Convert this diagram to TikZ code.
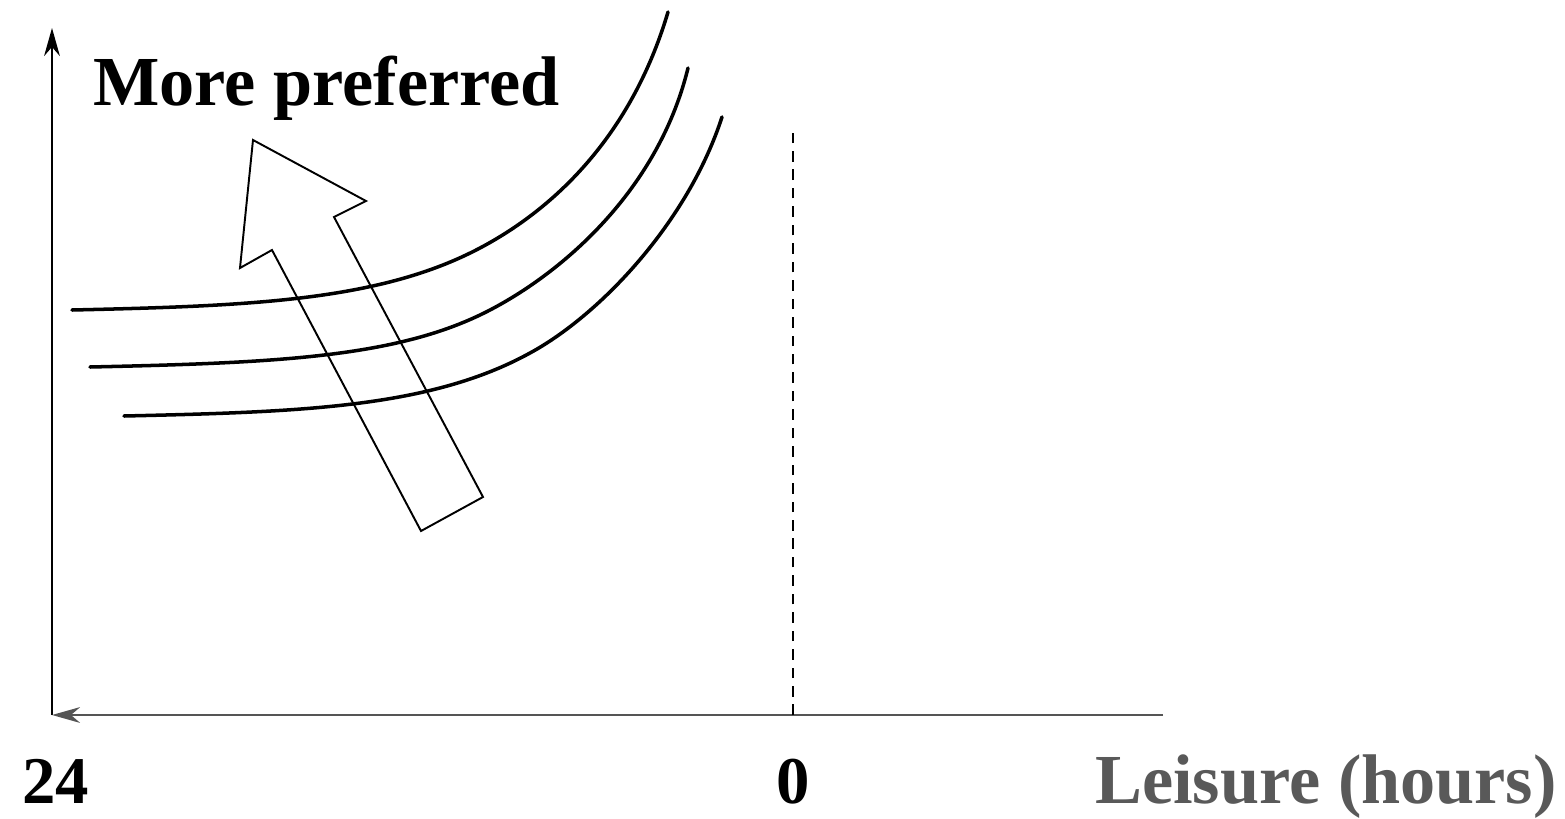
\documentclass[tikz,border=0pt]{standalone}
\usepackage{fontspec}
\setmainfont{Liberation Serif}
\usetikzlibrary{arrows.meta}
\definecolor{axisgray}{HTML}{555555}
\definecolor{labelgray}{HTML}{595959}
\tikzset{
  lbl/.style={font=\fontsize{40}{42}\selectfont\bfseries, inner sep=0pt, anchor=base west},
  numlbl/.style={font=\fontsize{38}{40}\selectfont\bfseries, inner sep=0pt, anchor=base west},
  icurve/.style={line width=2pt, line cap=round},
  bigarrow/.style={line width=1.1pt, line join=miter},
}
\begin{document}
\begin{tikzpicture}[x=0.02cm,y=-0.02cm]
\useasboundingbox (0,0) rectangle (1565,818);
% axes
\coordinate (O) at (52,715);
\coordinate (ytop) at (52,28);
\coordinate (xend) at (1163,715);
\coordinate (z0) at (793,715);
\coordinate (dtop) at (793,132);
\draw[line width=1.1pt, -{Stealth[length=16pt,width=9pt]}] (O) -- (ytop);
\draw[axisgray, line width=1.1pt, -{Stealth[length=16pt,width=9pt]}] (xend) -- (O);
\draw[line width=1.1pt, dash pattern=on 6pt off 4.5pt] (z0) -- (dtop);
% indifference curves
\draw[icurve] (72,310) .. controls (250,306) and (380,301) .. (480,248)
              .. controls (550,211) and (630,140) .. (668,12);
\draw[icurve] (90,367) .. controls (270,363) and (390,358) .. (480,315)
              .. controls (555,279) and (657,195) .. (688,68);
\draw[icurve] (124,416) .. controls (300,412) and (430,408) .. (530,353)
              .. controls (600,315) and (688,222) .. (722,117);
% big hollow arrow
\draw[bigarrow] (253,140) -- (366,201) -- (334,217) -- (483,497) -- (421,531) -- (272,250) -- (240,268) -- cycle;
% labels
\node[lbl] (mp) at (93,105) {More preferred};
\node[numlbl] (l24) at (22,803) {24};
\node[numlbl, anchor=base] (l0) at (793,803) {0};
\node[lbl, text=labelgray] (lx) at (1095,803) {Leisure (hours)};
\end{tikzpicture}
\end{document}
